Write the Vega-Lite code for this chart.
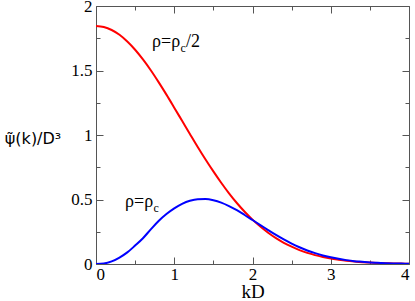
{
  "$schema": "https://vega.github.io/schema/vega-lite/v6.json",
  "width": 313,
  "height": 258,
  "autosize": {"type": "none"},
  "padding": {"left": 96, "top": 6, "right": 6, "bottom": 37},
  "background": "white",
  "config": {
    "view": {"stroke": null},
    "axis": {
      "grid": false,
      "labelFont": "Liberation Serif, Times New Roman, serif",
      "labelFontSize": 17,
      "labelColor": "black",
      "domainColor": "#555",
      "tickColor": "#555",
      "domainWidth": 1,
      "tickWidth": 1,
      "format": "~g"
    }
  },
  "datasets": {
    "curves": [
      {"kD": 0, "psi": 1.845, "rho": "half"}, {"kD": 0.1, "psi": 1.837, "rho": "half"}, {"kD": 0.2, "psi": 1.814, "rho": "half"}, {"kD": 0.3, "psi": 1.777, "rho": "half"}, {"kD": 0.4, "psi": 1.725, "rho": "half"}, {"kD": 0.5, "psi": 1.661, "rho": "half"}, {"kD": 0.6, "psi": 1.586, "rho": "half"}, {"kD": 0.7, "psi": 1.502, "rho": "half"}, {"kD": 0.8, "psi": 1.41, "rho": "half"}, {"kD": 0.9, "psi": 1.313, "rho": "half"}, {"kD": 1.0, "psi": 1.212, "rho": "half"}, {"kD": 1.1, "psi": 1.11, "rho": "half"}, {"kD": 1.2, "psi": 1.008, "rho": "half"}, {"kD": 1.3, "psi": 0.907, "rho": "half"}, {"kD": 1.4, "psi": 0.81, "rho": "half"}, {"kD": 1.5, "psi": 0.718, "rho": "half"}, {"kD": 1.6, "psi": 0.63, "rho": "half"}, {"kD": 1.7, "psi": 0.548, "rho": "half"}, {"kD": 1.8, "psi": 0.473, "rho": "half"}, {"kD": 1.9, "psi": 0.405, "rho": "half"}, {"kD": 2.0, "psi": 0.344, "rho": "half"}, {"kD": 2.1, "psi": 0.29, "rho": "half"}, {"kD": 2.2, "psi": 0.242, "rho": "half"}, {"kD": 2.3, "psi": 0.2, "rho": "half"}, {"kD": 2.4, "psi": 0.164, "rho": "half"}, {"kD": 2.5, "psi": 0.134, "rho": "half"}, {"kD": 2.6, "psi": 0.108, "rho": "half"}, {"kD": 2.7, "psi": 0.086, "rho": "half"}, {"kD": 2.8, "psi": 0.069, "rho": "half"}, {"kD": 2.9, "psi": 0.054, "rho": "half"}, {"kD": 3.0, "psi": 0.042, "rho": "half"}, {"kD": 3.1, "psi": 0.033, "rho": "half"}, {"kD": 3.2, "psi": 0.025, "rho": "half"}, {"kD": 3.3, "psi": 0.019, "rho": "half"}, {"kD": 3.4, "psi": 0.014, "rho": "half"}, {"kD": 3.5, "psi": 0.011, "rho": "half"}, {"kD": 3.6, "psi": 0.008, "rho": "half"}, {"kD": 3.7, "psi": 0.006, "rho": "half"}, {"kD": 3.8, "psi": 0.004, "rho": "half"}, {"kD": 3.9, "psi": 0.003, "rho": "half"}, {"kD": 4.0, "psi": 0.002, "rho": "half"},
      {"kD": 0, "psi": 0, "rho": "crit"}, {"kD": 0.1, "psi": 0.004, "rho": "crit"}, {"kD": 0.2, "psi": 0.02, "rho": "crit"}, {"kD": 0.3, "psi": 0.05, "rho": "crit"}, {"kD": 0.4, "psi": 0.09, "rho": "crit"}, {"kD": 0.5, "psi": 0.143, "rho": "crit"}, {"kD": 0.6, "psi": 0.2, "rho": "crit"}, {"kD": 0.7, "psi": 0.268, "rho": "crit"}, {"kD": 0.8, "psi": 0.333, "rho": "crit"}, {"kD": 0.9, "psi": 0.387, "rho": "crit"}, {"kD": 1.0, "psi": 0.431, "rho": "crit"}, {"kD": 1.1, "psi": 0.466, "rho": "crit"}, {"kD": 1.2, "psi": 0.49, "rho": "crit"}, {"kD": 1.3, "psi": 0.502, "rho": "crit"}, {"kD": 1.4, "psi": 0.503, "rho": "crit"}, {"kD": 1.5, "psi": 0.494, "rho": "crit"}, {"kD": 1.6, "psi": 0.476, "rho": "crit"}, {"kD": 1.7, "psi": 0.449, "rho": "crit"}, {"kD": 1.8, "psi": 0.417, "rho": "crit"}, {"kD": 1.9, "psi": 0.38, "rho": "crit"}, {"kD": 2.0, "psi": 0.341, "rho": "crit"}, {"kD": 2.1, "psi": 0.302, "rho": "crit"}, {"kD": 2.2, "psi": 0.263, "rho": "crit"}, {"kD": 2.3, "psi": 0.225, "rho": "crit"}, {"kD": 2.4, "psi": 0.19, "rho": "crit"}, {"kD": 2.5, "psi": 0.158, "rho": "crit"}, {"kD": 2.6, "psi": 0.13, "rho": "crit"}, {"kD": 2.7, "psi": 0.105, "rho": "crit"}, {"kD": 2.8, "psi": 0.084, "rho": "crit"}, {"kD": 2.9, "psi": 0.066, "rho": "crit"}, {"kD": 3.0, "psi": 0.052, "rho": "crit"}, {"kD": 3.1, "psi": 0.04, "rho": "crit"}, {"kD": 3.2, "psi": 0.03, "rho": "crit"}, {"kD": 3.3, "psi": 0.022, "rho": "crit"}, {"kD": 3.4, "psi": 0.017, "rho": "crit"}, {"kD": 3.5, "psi": 0.012, "rho": "crit"}, {"kD": 3.6, "psi": 0.009, "rho": "crit"}, {"kD": 3.7, "psi": 0.006, "rho": "crit"}, {"kD": 3.8, "psi": 0.004, "rho": "crit"}, {"kD": 3.9, "psi": 0.003, "rho": "crit"}, {"kD": 4.0, "psi": 0.002, "rho": "crit"}
    ],
    "notes": [
      {"kD": 0.716, "psi": 1.682, "main": "ρ=ρ", "sub": "c", "tail": "/2"},
      {"kD": 0.371, "psi": 0.438, "main": "ρ=ρ", "sub": "c", "tail": ""}
    ]
  },
  "layer": [
    {
      "data": {"name": "curves"},
      "mark": {"type": "line", "strokeWidth": 2, "interpolate": "monotone", "clip": true},
      "encoding": {
        "x": {"field": "kD", "type": "quantitative", "scale": {"domain": [0, 4], "nice": false},
          "axis": {"orient": "bottom", "values": [0, 1, 2, 3, 4], "tickSize": -7, "labelPadding": 9,
            "title": "kD", "titleFont": "Liberation Serif, Times New Roman, serif", "titleFontSize": 19, "titleFontWeight": "normal", "titleColor": "black", "titleBaseline": "alphabetic", "titleY": 33}},
        "y": {"field": "psi", "type": "quantitative", "scale": {"domain": [0, 2], "nice": false},
          "axis": {"orient": "left", "values": [0, 0.5, 1, 1.5, 2], "tickSize": -7, "labelPadding": 11,
            "title": "ψ̃(k)/D³", "titleAngle": 0, "titleAlign": "right", "titleBaseline": "alphabetic", "titleY": 137, "titleFont": "DejaVu Sans", "titleFontSize": 16, "titleFontWeight": "normal", "titleColor": "black", "titlePadding": 10}},
        "color": {"field": "rho", "type": "nominal", "scale": {"domain": ["half", "crit"], "range": ["#ff0000", "#0000ff"]}, "legend": null}
      }
    },
    {
      "data": {"name": "curves"},
      "mark": {"type": "point", "opacity": 0},
      "encoding": {
        "x": {"field": "kD", "type": "quantitative", "axis": {"orient": "top", "values": [0, 1, 2, 3, 4], "tickSize": -7, "labels": false, "title": null}},
        "y": {"field": "psi", "type": "quantitative", "axis": {"orient": "right", "values": [0, 0.5, 1, 1.5, 2], "tickSize": -7, "labels": false, "title": null}}
      }
    },
    {
      "data": {"name": "curves"},
      "mark": {"type": "point", "opacity": 0},
      "encoding": {
        "x": {"field": "kD", "type": "quantitative", "axis": {"orient": "bottom", "values": [0.5, 1.5, 2.5, 3.5], "tickSize": -4, "labels": false, "domain": false, "title": null}},
        "y": {"field": "psi", "type": "quantitative", "axis": {"orient": "left", "values": [0.25, 0.75, 1.25, 1.75], "tickSize": -4, "labels": false, "domain": false, "title": null}}
      }
    },
    {
      "data": {"name": "curves"},
      "mark": {"type": "point", "opacity": 0},
      "encoding": {
        "x": {"field": "kD", "type": "quantitative", "axis": {"orient": "top", "values": [0.5, 1.5, 2.5, 3.5], "tickSize": -4, "labels": false, "domain": false, "title": null}},
        "y": {"field": "psi", "type": "quantitative", "axis": {"orient": "right", "values": [0.25, 0.75, 1.25, 1.75], "tickSize": -4, "labels": false, "domain": false, "title": null}}
      }
    },
    {
      "data": {"name": "notes"},
      "mark": {"type": "text", "align": "left", "baseline": "alphabetic", "font": "Liberation Serif, Times New Roman, serif", "fontSize": 18, "color": "black"},
      "encoding": {
        "x": {"field": "kD", "type": "quantitative", "axis": null},
        "y": {"field": "psi", "type": "quantitative", "axis": null},
        "text": {"field": "main"}
      }
    },
    {
      "data": {"name": "notes"},
      "mark": {"type": "text", "align": "left", "baseline": "alphabetic", "font": "Liberation Serif, Times New Roman, serif", "fontSize": 12, "dx": 28.5, "dy": 5, "color": "black"},
      "encoding": {
        "x": {"field": "kD", "type": "quantitative", "axis": null},
        "y": {"field": "psi", "type": "quantitative", "axis": null},
        "text": {"field": "sub"}
      }
    },
    {
      "data": {"name": "notes"},
      "mark": {"type": "text", "align": "left", "baseline": "alphabetic", "font": "Liberation Serif, Times New Roman, serif", "fontSize": 18, "dx": 34, "color": "black"},
      "encoding": {
        "x": {"field": "kD", "type": "quantitative", "axis": null},
        "y": {"field": "psi", "type": "quantitative", "axis": null},
        "text": {"field": "tail"}
      }
    }
  ],
  "resolve": {"axis": {"x": "independent", "y": "independent"}}
}
